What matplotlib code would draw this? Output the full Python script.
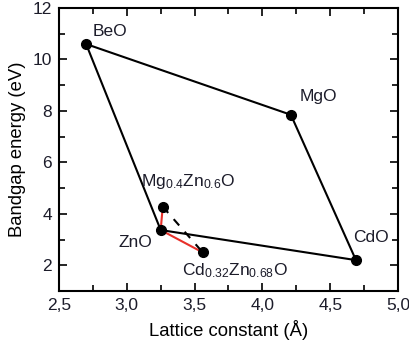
import matplotlib
matplotlib.use("Agg")
import matplotlib.pyplot as plt
from matplotlib.ticker import MultipleLocator, FuncFormatter

plt.rcParams['font.family'] = ['Liberation Sans', 'DejaVu Sans']
plt.rcParams['mathtext.fontset'] = 'custom'
plt.rcParams['mathtext.rm'] = 'Liberation Sans'
plt.rcParams['mathtext.it'] = 'Liberation Sans'

names = ["BeO", "MgO", "CdO", "ZnO"]
lattice = [2.70, 4.21, 4.69, 3.25]
gap = [10.6, 7.85, 2.2, 3.37]

alloy_names = ["Mg$_{0.4}$Zn$_{0.6}$O", "Cd$_{0.32}$Zn$_{0.68}$O"]
alloy_lattice = [3.265, 3.56]
alloy_gap = [4.28, 2.5]

txt = '#1c1c2a'

fig = plt.figure(figsize=(4.10, 3.49), dpi=100)
ax = fig.add_axes([0.1439, 0.1662, 0.8268, 0.8108])

# binary polygon: BeO - MgO - CdO - ZnO - BeO
px = lattice + [lattice[0]]
py = gap + [gap[0]]
ax.plot(px, py, color='black', lw=1.5, zorder=2)

# red lines from ZnO to alloys
zx, zy = lattice[3], gap[3]
for ax_, ay_ in zip(alloy_lattice, alloy_gap):
    ax.plot([zx, ax_], [zy, ay_], color='#e8302a', lw=1.5, zorder=2)

# dashed line between alloys
ax.plot(alloy_lattice, alloy_gap, color='black', lw=1.5, ls=(0, (4, 4)), zorder=2)

ax.plot(lattice, gap, 'o', color='black', ms=7, zorder=3)
ax.plot(alloy_lattice, alloy_gap, 'o', color='black', ms=7, zorder=3)

fs = 12.5
ax.annotate("BeO", (lattice[0], gap[0]), xytext=(5, 9), textcoords='offset points',
            fontsize=fs, color=txt, ha='left', va='center')
ax.annotate("MgO", (lattice[1], gap[1]), xytext=(6, 13), textcoords='offset points',
            fontsize=fs, color=txt, ha='left', va='center')
ax.annotate("CdO", (lattice[2], gap[2]), xytext=(-2, 16), textcoords='offset points',
            fontsize=fs, color=txt, ha='left', va='center')
ax.annotate("ZnO", (lattice[3], gap[3]), xytext=(-6, -9), textcoords='offset points',
            fontsize=fs, color=txt, ha='right', va='center')
ax.annotate(alloy_names[0], (alloy_lattice[0], alloy_gap[0]), xytext=(-16, 18),
            textcoords='offset points', fontsize=fs, color=txt, ha='left', va='center')
ax.annotate(alloy_names[1], (alloy_lattice[1], alloy_gap[1]), xytext=(-15, -13),
            textcoords='offset points', fontsize=fs, color=txt, ha='left', va='center')

ax.set_xlim(2.5, 5.0)
ax.set_ylim(1, 12)
ax.xaxis.set_major_locator(MultipleLocator(0.5))
ax.xaxis.set_minor_locator(MultipleLocator(0.25))
ax.yaxis.set_major_locator(MultipleLocator(2))
ax.yaxis.set_minor_locator(MultipleLocator(1))
ax.xaxis.set_major_formatter(FuncFormatter(lambda v, p: f"{v:.1f}".replace('.', ',')))
ax.yaxis.set_major_formatter(FuncFormatter(lambda v, p: f"{int(round(v))}"))

ax.tick_params(which='both', direction='in', top=True, right=True, width=1.2,
               labelsize=fs, labelcolor=txt, pad=5)
ax.tick_params(which='major', length=6)
ax.tick_params(which='minor', length=4)
for s in ax.spines.values():
    s.set_linewidth(1.5)

ax.set_xlabel("Lattice constant (Å)", fontsize=13.3, color='black', labelpad=5)
ax.set_ylabel("Bandgap energy (eV)", fontsize=13.3, color='black', labelpad=5)

fig.savefig("out.png", dpi=100)
